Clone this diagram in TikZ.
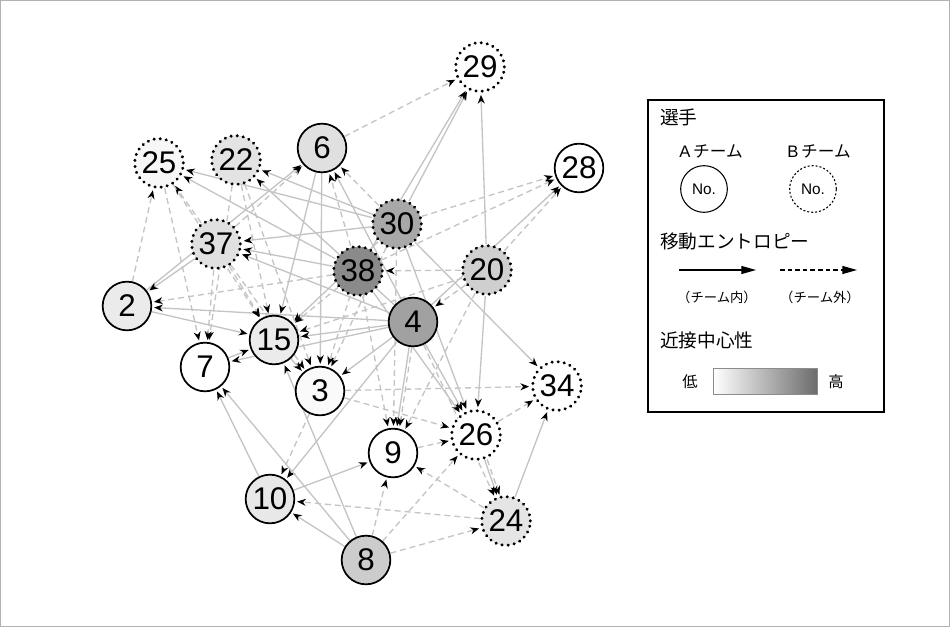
\documentclass[tikz,border=0pt]{standalone}
\usepackage{fontspec}
\setmainfont{Liberation Sans}
\newfontfamily\jp{Noto Sans CJK JP}
\usetikzlibrary{arrows.meta,backgrounds}
\definecolor{edgec}{HTML}{C4C4C4}
\begin{document}
\begin{tikzpicture}[x=0.75pt,y=-0.75pt,
  pa/.style={circle,draw=black,line width=1.3pt,minimum size=36.5pt,inner sep=0pt,
    font=\fontsize{23.5}{23.5}\selectfont},
  pb/.style={pa,line width=2.3pt,line cap=round,dash pattern=on 0.2pt off 4.4pt},
  e/.style={draw=edgec,line width=1pt,-{Stealth[length=6.5pt,width=5.2pt,inset=2pt,black]},shorten >=1.5pt},
  ed/.style={e,dash pattern=on 4.5pt off 3pt},
  jpt/.style={font=\jp\fontsize{#1}{#1}\selectfont,inner sep=0pt}]
\useasboundingbox (0,0) rectangle (950,627);
\draw[gray!60,line width=0.8pt] (0.5,0.5) rectangle (949.5,626.5);

% players
\node[pb,fill=white]          (n29) at (480,67)  {29};
\node[pa,fill=white]          (n28) at (579,168) {28};
\node[pb,fill=black!3]        (n25) at (159,163) {25};
\node[pb,fill=black!11]       (n22) at (236,160) {22};
\node[pa,fill=black!12]       (n6)  at (322,148) {6};
\node[pb,fill=black!34]       (n30) at (397,224) {30};
\node[pb,fill=black!12]       (n37) at (216,244) {37};
\node[pb,fill=black!46]       (n38) at (358,271) {38};
\node[pb,fill=black!19]       (n20) at (487,270) {20};
\node[pa,fill=black!8]        (n2)  at (127,306) {2};
\node[pa,fill=black!37]       (n4)  at (413,322) {4};
\node[pa,fill=black!8]        (n15) at (274,340) {15};
\node[pa,fill=white]          (n7)  at (205,367) {7};
\node[pa,fill=black!2]        (n3)  at (320,391) {3};
\node[pb,fill=white]          (n34) at (557,386) {34};
\node[pa,fill=white]          (n9)  at (393,453) {9};
\node[pb,fill=white]          (n26) at (476,435) {26};
\node[pa,fill=black!9]        (n10) at (270,499) {10};
\node[pb,fill=black!10]       (n24) at (506,521) {24};
\node[pa,fill=black!20]       (n8)  at (366,560) {8};

\begin{pgfonlayer}{background}
% within team (solid)
\foreach \a/\b in {30/29,38/29,20/29,4/28,4/6,2/6,30/25,38/25,30/22,4/22,30/37,38/37,4/37,
  37/2,4/2,2/15,6/15,30/15,4/15,7/15,8/15,6/3,4/3,15/3,4/9,10/9,4/26,38/26,30/26,20/26,
  26/24,30/34,24/34,4/10,8/10,10/7,8/7,4/7}
  \draw[e] (n\a) -- (n\b);
% across teams (dashed)
\foreach \a/\b in {6/29,30/28,38/28,20/28,38/6,30/6,37/6,37/25,2/25,25/7,25/15,22/15,22/7,22/3,
  37/15,37/7,37/3,38/2,38/15,20/15,38/3,30/3,3/10,3/34,3/26,38/9,20/9,30/9,9/26,24/9,
  8/26,8/9,26/34,8/24,4/24,24/10,20/4,20/38}
  \draw[ed] (n\a) -- (n\b);
\draw[ed,transform canvas={xshift=2pt}] (n26) -- (n24);
\draw[ed,transform canvas={xshift=2pt}] (n4) -- (n9);
\end{pgfonlayer}

% legend
\node[draw=black,line width=0.9pt,minimum width=177pt,minimum height=234pt,inner sep=0pt]
  (leg) at (766,256) {};
\node[jpt=14,anchor=west] (t1) at (660,117) {選手};
\node[jpt=12.5] (ta) at (711,151) {{\fontspec{Liberation Sans}A}\,チーム};
\node[jpt=12.5] (tb) at (819,151) {{\fontspec{Liberation Sans}B}\,チーム};
\node[circle,draw=black,line width=0.8pt,minimum size=35pt,inner sep=0pt,font=\fontsize{11.5}{11.5}\selectfont] (la) at (704,189) {No.};
\node[circle,draw=black,line width=0.8pt,dash pattern=on 1.5pt off 1.5pt,minimum size=35pt,inner sep=0pt,font=\fontsize{11.5}{11.5}\selectfont] (lb) at (813,189) {No.};
\node[jpt=14,anchor=west] (t2) at (660,241) {移動エントロピー};
\coordinate (s1) at (679,270); \coordinate (s2) at (756,270);
\coordinate (d1) at (780,270); \coordinate (d2) at (857,270);
\draw[line width=0.9pt,-{Triangle[length=11pt,width=6pt]}] (s1) -- (s2);
\draw[line width=0.9pt,dash pattern=on 3.5pt off 2.2pt,-{Triangle[length=11pt,width=6pt]}] (d1) -- (d2);
\node[jpt=10] (t3) at (717,297) {（チーム内）};
\node[jpt=10] (t4) at (820,297) {（チーム外）};
\node[jpt=14,anchor=west] (t5) at (660,340) {近接中心性};
\node[jpt=11.5] (t6) at (690,382) {低};
\node[jpt=11.5] (t7) at (836,382) {高};
\node[draw=black!45,line width=0.8pt,left color=white,right color=black!58,
  minimum width=78pt,minimum height=20pt,inner sep=0pt] (grad) at (765.5,381.5) {};
\end{tikzpicture}
\end{document}
